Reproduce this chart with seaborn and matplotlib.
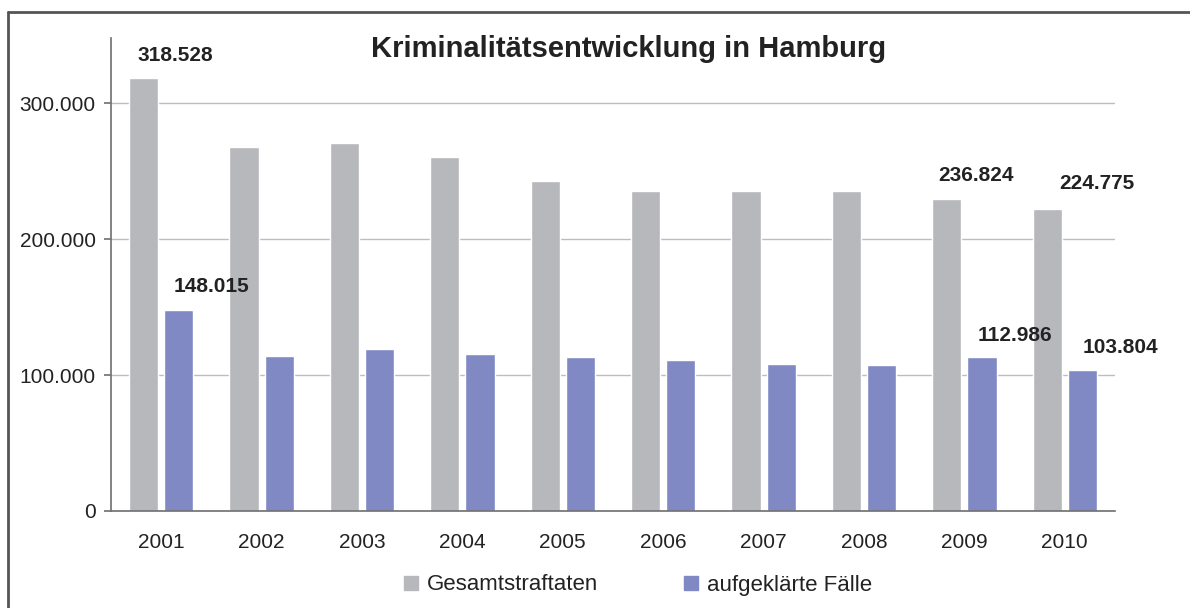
import numpy as np
import pandas as pd
import matplotlib
matplotlib.use("Agg")
import matplotlib.pyplot as plt
from matplotlib.lines import Line2D
from matplotlib.ticker import FuncFormatter
import seaborn as sns

# --- data ---
jahre = ["2001", "2002", "2003", "2004", "2005", "2006", "2007", "2008", "2009", "2010"]
gesamt = [318528, 268000, 270500, 260500, 243000, 235500, 235500, 235500, 229500, 222500]
aufgeklaert = [148015, 114000, 119000, 115500, 113000, 111000, 108000, 107500, 112986, 103804]
serien = ["Gesamtstraftaten", "aufgeklärte Fälle"]

# value labels: year index, text, value
label_jahr = [0, 0, 8, 9, 8, 9]
label_text = ["318.528", "148.015", "236.824", "224.775", "112.986", "103.804"]
label_wert = [318528, 148015, 236824, 224775, 112986, 103804]
# offsets of the label centre from (category centre, value), in pixels
label_off = [(14, 23), (50, 23), (12, 14), (32, 22), (51, 22), (56, 22)]

GRAU = "#B7B8BC"
BLAU = "#8089C4"

sns.set_theme(style="white")
plt.rcParams["font.family"] = ["Liberation Sans", "DejaVu Sans"]

df = pd.DataFrame({
    "Jahr": jahre * 2,
    "Fälle": gesamt + aufgeklaert,
    "Art": [serien[0]] * len(jahre) + [serien[1]] * len(jahre),
})

fig = plt.figure(figsize=(11.9, 6.08), dpi=100)
ax = fig.add_axes([111 / 1190, 1 - 511 / 608, (1115 - 111) / 1190, (511 - 38) / 608])

sns.barplot(data=df, x="Jahr", y="Fälle", hue="Art", palette=[GRAU, BLAU],
            width=0.7, gap=0.17, ax=ax, legend=False, saturation=1)

ax.set_xlim(-0.5, len(jahre) - 0.5)
ax.set_ylim(0, 348000)
ax.set_yticks([0, 100000, 200000, 300000])
ax.yaxis.set_major_formatter(FuncFormatter(lambda v, _: f"{int(v):,}".replace(",", ".")))
ax.yaxis.grid(True, color="#BDBDBD", lw=1)
ax.set_axisbelow(True)
ax.set_xlabel("")
ax.set_ylabel("")

for s in ["top", "right"]:
    ax.spines[s].set_visible(False)
for s in ["left", "bottom"]:
    ax.spines[s].set_color("#6E6E6E")
    ax.spines[s].set_linewidth(1.2)

ax.set_xticks(np.arange(-0.5, len(jahre), 1), minor=True)
ax.tick_params(axis="x", which="major", length=0, labelsize=15, pad=16, colors="#222222")
ax.tick_params(axis="x", which="minor", length=5, width=1.2, color="#6E6E6E")
ax.tick_params(axis="y", length=5, width=1.2, color="#6E6E6E", labelsize=15,
               pad=6, left=True, labelcolor="#222222")

# value labels
for i, txt, wert, (dx, dy) in zip(label_jahr, label_text, label_wert, label_off):
    ax.annotate(txt, xy=(i, wert), xytext=(dx, dy), textcoords="offset pixels",
                ha="center", va="center", fontsize=15, fontweight="bold", color="#222222")

fig.text(629 / 1190, 1 - 49 / 608, "Kriminalitätsentwicklung in Hamburg",
         ha="center", va="center", fontsize=21, fontweight="bold", color="#222222")

handles = [plt.Rectangle((0, 0), 1, 1, color=GRAU), plt.Rectangle((0, 0), 1, 1, color=BLAU)]
fig.legend(handles, serien, loc="center", bbox_to_anchor=(638 / 1190, 1 - 585 / 608),
           ncol=2, frameon=False, fontsize=16, handlelength=0.6, handleheight=0.6,
           handletextpad=0.4, columnspacing=3.9, labelcolor="#222222")

# outer frame (top and left edges visible)
fig.add_artist(Line2D([8 / 1190, 8 / 1190], [0, 1 - 12 / 608], color="#555555", lw=2))
fig.add_artist(Line2D([8 / 1190, 1.01], [1 - 12 / 608, 1 - 12 / 608], color="#555555", lw=2))

fig.savefig("out.png", dpi=100)
